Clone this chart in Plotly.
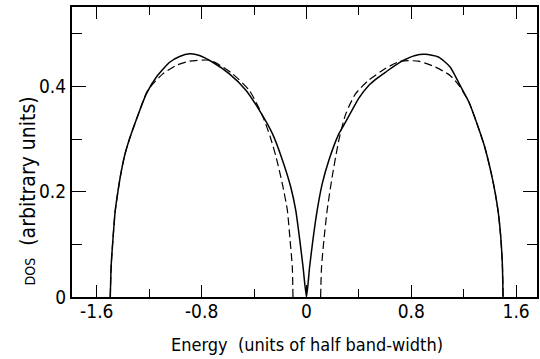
import plotly.graph_objects as go

# Solid curve (energy in units of half band-width, DOS arbitrary units)
E_solid = [-1.497, -1.49, -1.475, -1.46, -1.437, -1.42, -1.40, -1.38, -1.348, -1.285,
           -1.222, -1.145, -1.044, -0.968, -0.892, -0.816, -0.715, -0.588, -0.462, -0.36,
           -0.259, -0.183, -0.12, -0.082, -0.051, -0.026, 0.0, 0.024, 0.049, 0.082,
           0.12, 0.171, 0.247, 0.30, 0.348, 0.40, 0.475, 0.54, 0.602, 0.728,
           0.83, 0.906, 1.007, 1.096, 1.172, 1.24, 1.30, 1.36, 1.41, 1.44,
           1.465, 1.483, 1.495, 1.50]
D_solid = [0.0, 0.06, 0.115, 0.162, 0.203, 0.229, 0.255, 0.276, 0.302, 0.346,
           0.386, 0.418, 0.446, 0.457, 0.462, 0.459, 0.446, 0.424, 0.393, 0.355,
           0.31, 0.26, 0.209, 0.165, 0.108, 0.057, 0.0, 0.057, 0.108, 0.165,
           0.215, 0.26, 0.31, 0.333, 0.355, 0.378, 0.402, 0.416, 0.427, 0.448,
           0.459, 0.461, 0.456, 0.437, 0.402, 0.37, 0.33, 0.285, 0.235, 0.198,
           0.158, 0.112, 0.06, 0.0]

# Dashed curve (gap around E = 0)
E_dash = [-1.497, -1.49, -1.475, -1.46, -1.437, -1.42, -1.40, -1.38, -1.348, -1.285,
          -1.21, -1.096, -0.994, -0.893, -0.741, -0.678, -0.564, -0.437, -0.37, -0.32,
          -0.275, -0.234, -0.184, -0.146, -0.125, -0.108, -0.103, None,
          0.108, 0.115, 0.133, 0.158, 0.196, 0.247, 0.30, 0.374, 0.475, 0.602,
          0.716, 0.855, 0.982, 1.096, 1.172, 1.24, 1.30, 1.36, 1.41, 1.44,
          1.465, 1.483, 1.495, 1.50]
D_dash = [0.0, 0.06, 0.115, 0.162, 0.203, 0.229, 0.255, 0.276, 0.302, 0.346,
          0.393, 0.424, 0.44, 0.448, 0.45, 0.443, 0.424, 0.393, 0.363, 0.335,
          0.303, 0.268, 0.215, 0.165, 0.108, 0.057, 0.0, None,
          0.0, 0.057, 0.108, 0.165, 0.228, 0.298, 0.348, 0.386, 0.412, 0.434,
          0.448, 0.448, 0.437, 0.421, 0.399, 0.37, 0.33, 0.285, 0.235, 0.198,
          0.158, 0.112, 0.06, 0.0]

x_tickvals = [-1.6, -0.8, 0, 0.8, 1.6]
x_ticktext = ["-1.6", "-0.8", "0", "0.8", "1.6"]
x_minorvals = [-1.2, -0.4, 0.4, 1.2]
y_tickvals = [0, 0.2, 0.4]
y_ticktext = ["0", "0.2", "0.4"]
y_minorvals = [0.1, 0.3, 0.5]

x_range = [-1.789, 1.759]
y_range = [0.0, 0.551]

FONT = "DejaVu Sans Condensed, Liberation Sans Narrow, DejaVu Sans, sans-serif"

fig = go.Figure()
fig.add_trace(go.Scatter(x=E_solid, y=D_solid, mode="lines",
                         line=dict(color="black", width=1.5, shape="spline", smoothing=0.6),
                         showlegend=False, hoverinfo="skip"))
fig.add_trace(go.Scatter(x=E_dash, y=D_dash, mode="lines",
                         line=dict(color="black", width=1.2, dash="8px,4px", shape="spline", smoothing=0.6),
                         connectgaps=False, showlegend=False, hoverinfo="skip"))

axis_common = dict(showgrid=False, zeroline=False, showline=True, linecolor="black",
                   linewidth=2, mirror="ticks", ticks="inside", tickcolor="black",
                   tickwidth=1.2, tickmode="array",
                   tickfont=dict(family=FONT, size=19, color="black"))

fig.update_xaxes(range=x_range, tickvals=x_tickvals, ticktext=x_ticktext, ticklen=12,
                 ticklabelstandoff=-4,
                 minor=dict(tickmode="array", tickvals=x_minorvals, ticklen=8, ticks="inside",
                            tickcolor="black", tickwidth=1.2),
                 **axis_common)
fig.update_yaxes(range=y_range, tickvals=y_tickvals, ticktext=y_ticktext, ticklen=14,
                 minor=dict(tickmode="array", tickvals=y_minorvals, ticklen=10, ticks="inside",
                            tickcolor="black", tickwidth=1.2),
                 **axis_common)

fig.add_annotation(text="Energy  (units of half band-width)", xref="paper", yref="paper",
                   x=0.505, y=-0.165, xanchor="center", yanchor="middle", showarrow=False,
                   font=dict(family=FONT, size=18, color="black"))
fig.add_annotation(text="<span style='font-size:14px'>DOS</span>  (arbitrary units)",
                   xref="paper", yref="paper", x=-0.094, y=0.365, xanchor="center", yanchor="middle",
                   textangle=-90, showarrow=False,
                   font=dict(family=FONT, size=21, color="black"))

fig.update_layout(width=540, height=359, margin=dict(l=72, r=1, t=7, b=62),
                  paper_bgcolor="white", plot_bgcolor="white")

fig.write_html("out.html")
